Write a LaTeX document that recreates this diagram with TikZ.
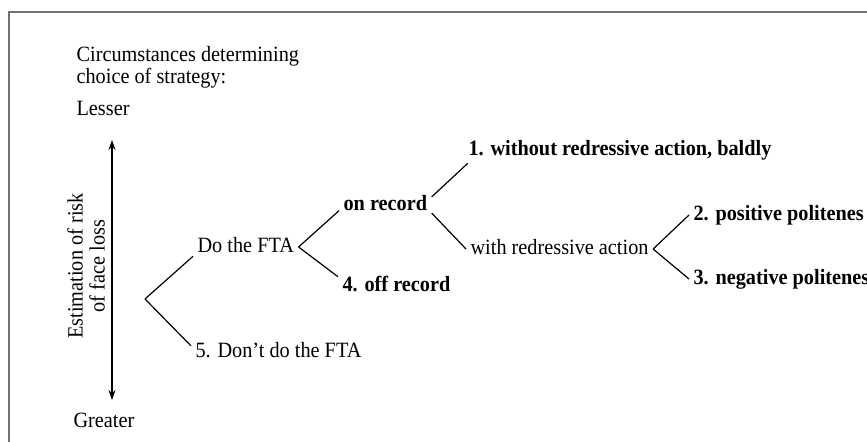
\documentclass[tikz,border=0pt]{standalone}
\usepackage{fontspec}
\setmainfont[FakeStretch=0.93]{Liberation Serif}
\usetikzlibrary{arrows.meta}
\begin{document}
\begin{tikzpicture}[x=0.5pt,y=-0.5pt,line width=0.6pt,
  lbl/.style={anchor=west,text height=1.6ex,text depth=.3ex,font=\fontsize{10.9}{11}\selectfont},
  opt/.style={lbl,font=\fontsize{10.9}{11}\selectfont\bfseries},
  frame/.style={black!55,line width=1.2pt},
  tip/.tip={Stealth[length=5pt,width=3.5pt]}]
\tikzstyle{every node}+=[inner sep=2pt]
\useasboundingbox (0,0) rectangle (867,442);
\clip (0,0) rectangle (867,442);
\draw [frame] (9,442) -- (9,12) -- (867,12);
% left side: scale of risk
\node [lbl,align=left,font=\fontsize{10.9}{10}\selectfont,text height=,text depth=] (title) at (72,67) {Circumstances determining\\choice of strategy:};
\node [lbl] (lesser) at (72,110) {Lesser};
\node [lbl] (greater) at (69,422) {Greater};
\coordinate (top) at (112,140);
\coordinate (bot) at (112,400);
\draw [tip-tip] (top) -- (bot);
\node [rotate=90,align=center,font=\fontsize{10.9}{11}\selectfont] (risk) at (86,266) {Estimation of risk\\of face loss};
% the tree
\coordinate (root) at (145,299);
\node [lbl] (do) at (193,247) {Do the FTA};
\node [lbl] (dont) at (191,352) {5. Don't do the FTA};
\node [opt] (onrec) at (339,205) {on record};
\node [opt] (offrec) at (338,286) {4. off record};
\node [opt] (bald) at (464,150) {1. without redressive action, baldly};
\node [lbl] (redress) at (466,249) {with redressive action};
\node [opt] (pos) at (689,215) {2. positive politenes};
\node [opt] (neg) at (689,279) {3. negative politenes};
\draw (root) -- (do.190);
\draw (root) -- (dont.176);
\draw (do.east) -- (onrec.187);
\draw (do.east) -- (offrec.171);
\draw (onrec.10) -- (bald.185);
\draw (onrec.-10) -- (redress.west);
\draw (redress.east) -- (pos.west);
\draw (redress.east) -- (neg.west);
\end{tikzpicture}
\end{document}
